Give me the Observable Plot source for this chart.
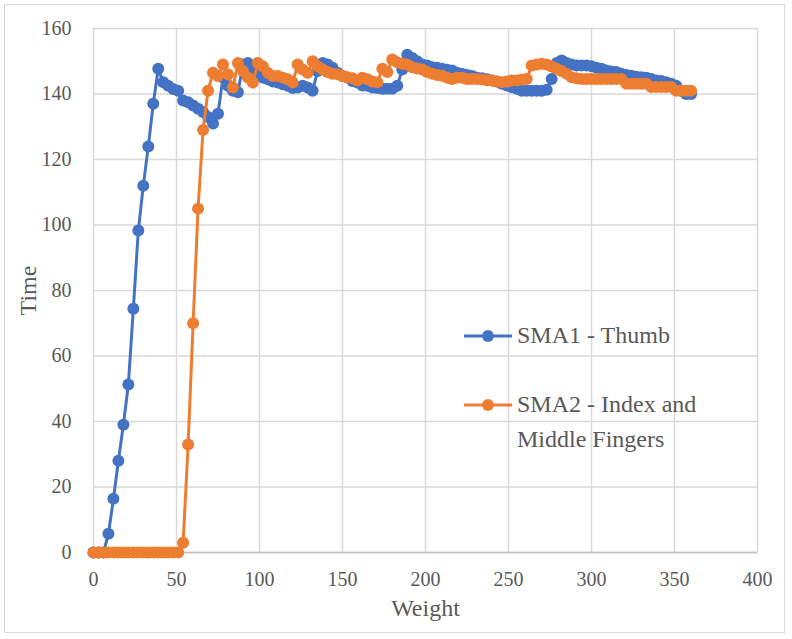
<!DOCTYPE html>
<html>
<head>
<meta charset="utf-8">
<script src="https://cdn.jsdelivr.net/npm/d3@7"></script>
<script src="https://cdn.jsdelivr.net/npm/@observablehq/plot@0.6"></script>
<style>
  html, body { margin: 0; padding: 0; background: #fff; }
  #wrap { position: relative; width: 792px; height: 639px; }
  #border { position: absolute; left: 4px; top: 4px; width: 781px; height: 629px; border: 1px solid #d9d9d9; box-sizing: border-box; pointer-events: none; }
  #legend { position: absolute; left: 463px; top: 318px; font-family: "Liberation Serif", serif; font-size: 24px; color: #595959; }
  .item { display: flex; align-items: flex-start; }
  .item svg { flex: none; margin-top: 6px; }
  .item span { margin-left: 4px; line-height: 35px; margin-top: 0px; }
</style>
</head>
<body>
<div id="wrap">
  <div id="chart"></div>
  <div id="border"></div>
  <div id="legend"></div>
</div>
<script>
const weights = [0,3,6,9,12,15,18,21,24,27,30,33,36,39,42,45,48,51,54,57,60,63,66,69,72,75,78,81,84,87,90,93,96,99,102,105,108,111,114,117,120,123,126,129,132,135,138,141,144,147,150,153,156,159,162,165,168,171,174,177,180,183,186,189,192,195,198,201,204,207,210,213,216,219,222,225,228,231,234,237,240,243,246,249,252,255,258,261,264,267,270,273,276,279,282,285,288,291,294,297,300,303,306,309,312,315,318,321,324,327,330,333,336,339,342,345,348,351,354,357,360];

const sma1Thumb = [0,0,0,5.7,16.4,28,39,51.3,74.4,98.3,112,124,137,147.7,143.6,142.5,141.5,141,138,137.5,136.5,135.5,134.5,133,131,134,145,142.5,141,140.5,149,149.5,148,146,145,144.5,143.8,143.5,143,142.5,141.8,142,142.5,142,141,147,149.5,149,148,146.5,145.5,145,144,143.5,142.6,142.5,142,141.8,141.6,141.6,141.6,142.5,147.5,152,151,150,149,148.7,148.2,148,147.7,147.4,147.2,146.5,146.2,145.8,145.5,145,144.8,144.5,144.1,143.8,143.1,142.6,142.1,141.6,141,141,141,141,141,141.3,144.6,149.5,150.2,149.5,149,148.7,148.7,148.7,148.5,148,147.7,147.2,146.9,146.7,146.2,145.8,145.6,145.3,145.1,145,144.6,144.1,144,143.6,143.1,142.5,141,140,140];

const sma2IndexMiddle = [0,0,0,0,0,0,0,0,0,0,0,0,0,0,0,0,0,0,3,33,70,105,129,141,146.5,145.5,149,146,142,149.5,147,145,143.5,149.5,148.5,146.5,145.5,145.5,145,144.5,143.5,149,147.5,146.5,150,148.5,147.5,146.7,146.2,146,145.5,145.1,144.8,144.1,145,144.5,143.8,143.6,147.7,146.7,150.5,149.7,149.2,149,148.2,147.8,147.5,146.7,146.2,145.8,145.6,145,144.6,145,145,144.6,144.6,144.6,144.4,144.2,144.1,143.8,143.6,143.8,144.1,144.1,144.4,144.6,148.7,149,149.2,149,148.4,147.7,147,146.2,145.1,144.8,144.6,144.6,144.6,144.6,144.6,144.6,144.6,144.6,144.6,143.1,143.1,143.1,143.1,143.1,142.1,142.1,142.1,142.1,142.1,141,141,141,141];

const xTicks = [0,50,100,150,200,250,300,350,400];
const yTicks = [0,20,40,60,80,100,120,140,160];
const seriesNames = ["SMA1 - Thumb", "SMA2 - Index and Middle Fingers"];
const seriesColors = ["#4472C4", "#ED7D31"];

const s1 = weights.map((w, i) => ({weight: w, time: sma1Thumb[i]}));
const s2 = weights.map((w, i) => ({weight: w, time: sma2IndexMiddle[i]}));

const chart = Plot.plot({
  width: 792,
  height: 639,
  marginLeft: 93,
  marginRight: 35,
  marginTop: 28,
  marginBottom: 87,
  style: {fontFamily: "Liberation Serif, serif", fontSize: "20px", color: "#595959", background: "transparent"},
  x: {domain: [0, 400]},
  y: {domain: [0, 160]},
  marks: [
    Plot.gridX(xTicks, {stroke: "#d9d9d9", strokeOpacity: 1, strokeWidth: 1.5}),
    Plot.gridY(yTicks, {stroke: "#d9d9d9", strokeOpacity: 1, strokeWidth: 1.5}),
    Plot.ruleY([0], {stroke: "#bfbfbf", strokeWidth: 1.5}),
    Plot.axisX(xTicks, {tickSize: 0, tickPadding: 19, fontSize: 20, label: "Weight", labelAnchor: "center", labelOffset: 63, color: "#595959"}),
    Plot.axisY(yTicks, {tickSize: 0, tickPadding: 22, fontSize: 20, label: "Time", labelAnchor: "center", labelOffset: 75, color: "#595959"}),
    Plot.line(s1, {x: "weight", y: "time", stroke: seriesColors[0], strokeWidth: 3}),
    Plot.dot(s1, {x: "weight", y: "time", r: 6, fill: seriesColors[0], stroke: "none"}),
    Plot.line(s2, {x: "weight", y: "time", stroke: seriesColors[1], strokeWidth: 3}),
    Plot.dot(s2, {x: "weight", y: "time", r: 6, fill: seriesColors[1], stroke: "none"})
  ]
});
chart.querySelectorAll("[aria-label='x-axis label'] text, [aria-label='y-axis label'] text").forEach(t => {
  t.setAttribute("font-size", "24");
  t.style.fontSize = "24px";
  t.textContent = t.textContent.replace(/\s*[→↑←↓]\s*/g, "").trim();
});
document.getElementById("chart").appendChild(chart);

const legend = document.getElementById("legend");
const lines = [["SMA1 - Thumb"], ["SMA2 - Index and", "Middle Fingers"]];
lines.forEach((txt, i) => {
  const item = document.createElement("div");
  item.className = "item";
  item.style.marginBottom = i === 0 ? "34px" : "0";
  item.innerHTML = `<svg width="50" height="24"><line x1="1" x2="49" y1="12" y2="12" stroke="${seriesColors[i]}" stroke-width="3"/><circle cx="25" cy="12" r="6" fill="${seriesColors[i]}"/></svg><span>${txt.join("<br>")}</span>`;
  legend.appendChild(item);
});
</script>
</body>
</html>
